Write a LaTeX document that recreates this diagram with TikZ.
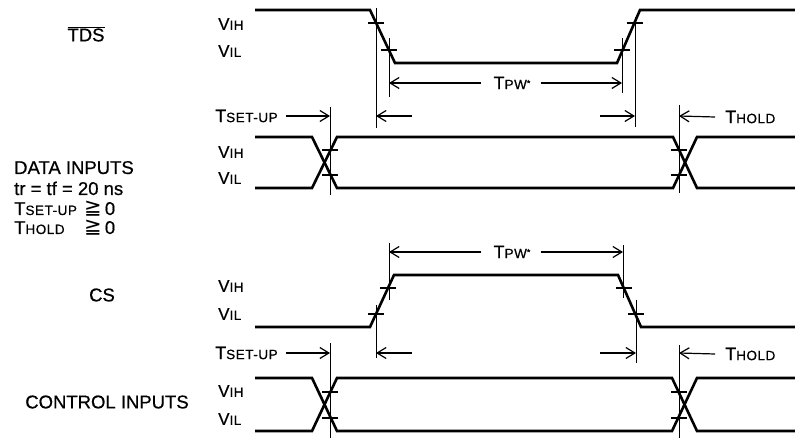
\documentclass[tikz,border=0pt]{standalone}
\usepackage{fontspec}
\setmainfont[FakeBold=0.6]{Liberation Sans}
\newfontfamily\sigfont[LetterSpace=4, FakeBold=0.6]{Liberation Sans}
\newfontfamily\symfont{DejaVu Sans}
\usetikzlibrary{arrows.meta}
\newcommand\lowcap[1]{{\fontsize{13.5}{13.5}\selectfont #1}}
\newcommand\lvl[1]{{\sigfont\fontsize{17}{17}\selectfont V\lowcap{#1}}}
\newcommand\tname[1]{{\sigfont\fontsize{18}{18}\selectfont T\lowcap{#1}}}
\newcommand\geqzero{{\symfont\fontsize{21}{21}\selectfont ≧}\,0}
\tikzset{
  wave/.style      = {line width=2.6pt},        % signal traces
  guide/.style     = {line width=0.9pt},
  tickmark/.style  = {line width=1.3pt},
  dim/.style       = {-{Straight Barb[length=9pt,width=11pt]}, line width=1.2pt},
  biglabel/.style  = {font=\fontsize{18.5}{20}\selectfont, inner sep=0pt},
  lvllabel/.style  = {anchor=west, inner sep=0pt},
  timelabel/.style = {inner sep=0pt}
}
\begin{document}
\begin{tikzpicture}[x=1pt, y=-1pt]
  \useasboundingbox (0,0) rectangle (795,438);
  % signal names
  \node[biglabel] (tdsName) at (86,34) {$\overline{\mbox{TDS}}$};
  \node[biglabel, anchor=base west] (dataName) at (14,174) {DATA INPUTS};
  \node[biglabel, anchor=base west] (dataRise) at (14,195) {tr = tf = 20 ns};
  \node[biglabel, anchor=base west] (dataSu) at (14,215) {\sigfont T\lowcap{SET-UP}};
  \node[biglabel, anchor=base west] (dataSuGe) at (84,215) {\geqzero};
  \node[biglabel, anchor=base west] (dataHd) at (14,234) {\sigfont T\lowcap{HOLD}};
  \node[biglabel, anchor=base west] (dataHdGe) at (84,234) {\geqzero};
  \node[biglabel] (csName) at (102,295) {CS};
  \node[biglabel] (ctlName) at (107,402) {CONTROL INPUTS};
  % level labels
  \node[lvllabel] (tdsVih) at (218,24) {\lvl{IH}};
  \node[lvllabel] (tdsVil) at (218,51) {\lvl{IL}};
  \node[lvllabel] (dataVih) at (218,152) {\lvl{IH}};
  \node[lvllabel] (dataVil) at (218,178) {\lvl{IL}};
  \node[lvllabel] (csVih) at (218,286) {\lvl{IH}};
  \node[lvllabel] (csVil) at (218,314) {\lvl{IL}};
  \node[lvllabel] (ctlVih) at (218,391) {\lvl{IH}};
  \node[lvllabel] (ctlVil) at (218,419) {\lvl{IL}};

  % TDS
  \draw[wave] (255,10) -- (370,10) -- (395,63) -- (617,63) -- (640,10) -- (795,10);
  \draw[guide] (376,8) -- (376,128);
  \draw[guide] (389,38) -- (389,97);
  \draw[guide] (622,38) -- (622,93);
  \draw[guide] (635,17) -- (635,127);
  \draw[tickmark] (368,23) -- (384,23);
  \draw[tickmark] (381,50) -- (397,50);
  \draw[tickmark] (614,50) -- (630,50);
  \draw[tickmark] (627,23) -- (643,23);

  % DATA INPUTS
  \draw[wave] (255,137) -- (312,137) -- (337,188) -- (673,188) -- (697,137) -- (795,137);
  \draw[wave] (255,188) -- (312,188) -- (337,137) -- (673,137) -- (697,188) -- (795,188);
  \draw[guide] (330,107) -- (330,195);
  \draw[guide] (679,105) -- (679,193);
  \draw[tickmark] (322,150) -- (338,150);
  \draw[tickmark] (322,175) -- (338,175);
  \draw[tickmark] (671,150) -- (687,150);
  \draw[tickmark] (671,175) -- (687,175);

  % CS
  \draw[wave] (255,327) -- (370,327) -- (394,275) -- (618,275) -- (641,327) -- (795,327);
  \draw[guide] (389,243) -- (389,300);
  \draw[guide] (376,305) -- (376,358);
  \draw[guide] (623,245) -- (623,298);
  \draw[guide] (636,300) -- (636,363);
  \draw[tickmark] (368,314) -- (384,314);
  \draw[tickmark] (380,288) -- (396,288);
  \draw[tickmark] (616,288) -- (632,288);
  \draw[tickmark] (628,314) -- (644,314);

  % CONTROL INPUTS
  \draw[wave] (255,378) -- (312,378) -- (337,431) -- (672,431) -- (697,378) -- (795,378);
  \draw[wave] (255,431) -- (312,431) -- (337,378) -- (672,378) -- (697,431) -- (795,431);
  \draw[guide] (330,343) -- (330,438);
  \draw[guide] (679,345) -- (679,438);
  \draw[tickmark] (322,392) -- (338,392);
  \draw[tickmark] (322,418) -- (338,418);
  \draw[tickmark] (671,392) -- (687,392);
  \draw[tickmark] (671,418) -- (687,418);

  % timing labels and arrows
  \node[timelabel] (tpwTds) at (512,83) {\tname{PW}\raisebox{3pt}{\fontsize{9}{9}\selectfont*}};
  \node[timelabel] (tpwCs) at (512,252) {\tname{PW}\raisebox{3pt}{\fontsize{9}{9}\selectfont*}};
  \node[timelabel, anchor=west] (suData) at (215,116) {\tname{SET-UP}};
  \node[timelabel, anchor=west] (suCtl) at (215,353) {\tname{SET-UP}};
  \node[timelabel, anchor=west] (hdData) at (725,117) {\tname{HOLD}};
  \node[timelabel, anchor=west] (hdCtl) at (725,354) {\tname{HOLD}};
  \coordinate (tdsOffL) at (412,116);
  \coordinate (tdsOffR) at (600,116);
  \coordinate (csOffL) at (412,353);
  \coordinate (csOffR) at (600,353);

  \draw[dim] ([xshift=-12pt]tpwTds.west) -- (389,83);
  \draw[dim] ([xshift=10pt]tpwTds.east) -- (622,83);
  \draw[dim] ([xshift=8pt]suData.east) -- (330,116);
  \draw[dim] (tdsOffL) -- (376,116);
  \draw[dim] (tdsOffR) -- (635,116);
  \draw[dim] ([xshift=-10pt]hdData.west) -- (679,116);

  \draw[dim] ([xshift=-12pt]tpwCs.west) -- (389,252);
  \draw[dim] ([xshift=10pt]tpwCs.east) -- (623,252);
  \draw[dim] ([xshift=8pt]suCtl.east) -- (330,353);
  \draw[dim] (csOffL) -- (376,353);
  \draw[dim] (csOffR) -- (636,353);
  \draw[dim] ([xshift=-10pt]hdCtl.west) -- (679,353);
\end{tikzpicture}
\end{document}
